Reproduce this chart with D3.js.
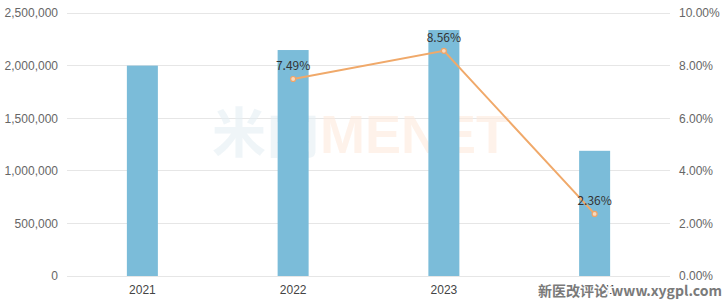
<!DOCTYPE html>
<html><head><meta charset="utf-8">
<script src="https://cdn.jsdelivr.net/npm/d3@7/dist/d3.min.js"></script>
<style>html,body{margin:0;padding:0;background:#fff;}svg{display:block;font-family:"Microsoft YaHei","Noto Sans CJK SC","Noto Sans",sans-serif;}</style>
</head><body><svg id="c" width="724" height="300"></svg>
<script>
const categories = ["2021", "2022", "2023", "2024H1"];
const barValues = [2000000, 2148000, 2338000, 1190000];
const rateCategories = ["2022", "2023", "2024H1"];
const rateValues = [7.49, 8.56, 2.36];
const leftTicks = [0, 500000, 1000000, 1500000, 2000000, 2500000];
const rightTicks = [0, 2, 4, 6, 8, 10];

const svg = d3.select("#c");
const m = {l: 67, r: 54, t: 13, b: 24};
const W = 724, H = 300;
const x = d3.scaleBand().domain(categories).range([m.l, W - m.r]).paddingInner(0).paddingOuter(0);
const y = d3.scaleLinear().domain([0, 2500000]).range([H - m.b, m.t]);
const y2 = d3.scaleLinear().domain([0, 10]).range([H - m.b, m.t]);

// grid
svg.append("g").selectAll("line").data(leftTicks).join("line")
  .attr("x1", m.l).attr("x2", W - m.r)
  .attr("y1", d => y(d)).attr("y2", d => y(d))
  .attr("stroke", "#e6e6e6").attr("stroke-width", 1).attr("shape-rendering", "crispEdges");

// watermark
const wm = svg.append("text").attr("x", 212).attr("y", 153)
  .attr("font-size", 54).attr("font-weight", "bold").attr("font-family", "Arial, 'Liberation Sans', 'Noto Sans CJK SC', sans-serif");
wm.append("tspan").text("米内").attr("fill", "#e4eef3").attr("fill-opacity", 0.6);
wm.append("tspan").text("MENET").attr("fill", "#fde9dc").attr("fill-opacity", 0.6);

// left axis
const la = svg.append("g").attr("transform", `translate(${m.l},0)`)
  .call(d3.axisLeft(y).tickValues(leftTicks).tickSize(0).tickPadding(9).tickFormat(d3.format(",")));
la.select(".domain").remove();
la.selectAll("text").attr("fill", "#666").attr("font-size", 12);

// right axis
const ra = svg.append("g").attr("transform", `translate(${W - m.r},0)`)
  .call(d3.axisRight(y2).tickValues(rightTicks).tickSize(0).tickPadding(9).tickFormat(d => d.toFixed(2) + "%"));
ra.select(".domain").remove();
ra.selectAll("text").attr("fill", "#666").attr("font-size", 12);

// bars
const bw = 31;
svg.append("g").selectAll("rect").data(categories).join("rect")
  .attr("x", d => x(d) + x.bandwidth() / 2 - bw / 2)
  .attr("width", bw)
  .attr("y", (d, i) => y(barValues[i]))
  .attr("height", (d, i) => y(0) - y(barValues[i]))
  .attr("fill", "#7bbcd9");

// x axis
const xa = svg.append("g").attr("transform", `translate(0,${H - m.b})`)
  .call(d3.axisBottom(x).tickSize(0).tickPadding(9));
xa.select(".domain").remove();
xa.selectAll("text").attr("fill", "#444").attr("font-size", 12);

// line
const cx = d => x(d) + x.bandwidth() / 2;
const pts = rateCategories.map((c, i) => [cx(c), y2(rateValues[i])]);
svg.append("path").datum(pts).attr("d", d3.line())
  .attr("fill", "none").attr("stroke", "#f0a96a").attr("stroke-width", 2);
svg.append("g").selectAll("circle").data(pts).join("circle")
  .attr("cx", d => d[0]).attr("cy", d => d[1]).attr("r", 2.5)
  .attr("fill", "#f8d9bd").attr("stroke", "#eea468").attr("stroke-width", 1.2);
svg.append("g").selectAll("text").data(rateValues).join("text")
  .attr("x", (d, i) => pts[i][0]).attr("y", (d, i) => pts[i][1] - 9)
  .attr("text-anchor", "middle").attr("font-size", 12).attr("fill", "#333")
  .text(d => d.toFixed(2) + "%");

// source watermark
svg.append("text").attr("x", 722).attr("y", 296).attr("text-anchor", "end")
  .attr("font-size", 14).attr("font-weight", "bold").attr("fill", "#7a7a7a")
  .attr("stroke", "#fff").attr("stroke-width", 3).attr("paint-order", "stroke")
  .attr("font-family", "'Noto Sans CJK SC', 'DejaVu Sans', sans-serif")
  .text("新医改评论 www.xygpl.com");
</script></body></html>
